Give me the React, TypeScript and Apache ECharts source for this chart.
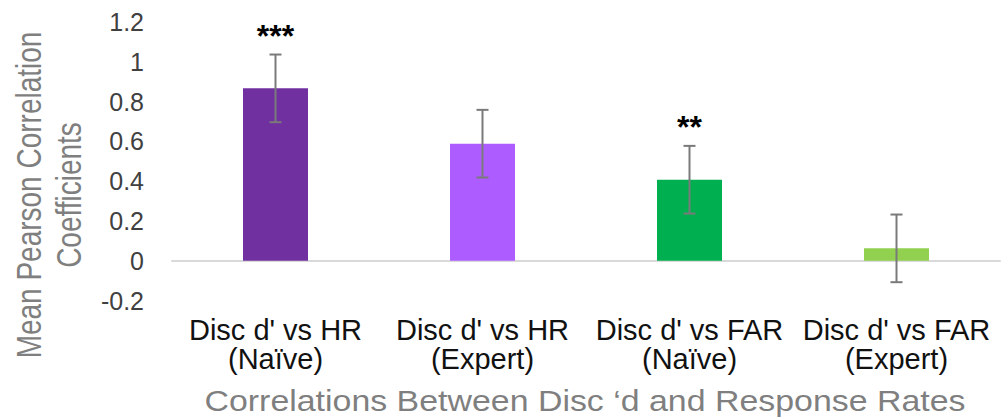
import React, { useEffect, useRef } from "react";
import * as echarts from "echarts";

const categories = [
  "Disc d' vs HR\n(Naïve)",
  "Disc d' vs HR\n(Expert)",
  "Disc d' vs FAR\n(Naïve)",
  "Disc d' vs FAR\n(Expert)",
];
const means = [0.866, 0.588, 0.407, 0.062];
const errors = [0.17, 0.17, 0.17, 0.17];
const significance = ["***", "", "**", ""];
const barColors = ["#7030A0", "#AD5CFF", "#00B050", "#92D050"];
const yMin = -0.2;
const yMax = 1.2;
const yStep = 0.2;
const yTitleLines = ["Mean Pearson Correlation", "Coefficients"];
const xTitle = "Correlations Between Disc \u2018d and Response Rates";

const FONT = '"Liberation Sans", Arial, sans-serif';

export default function App() {
  const ref = useRef<HTMLDivElement>(null);
  useEffect(() => {
    document.body.style.margin = "0";
    const chart = echarts.init(ref.current!, null, { renderer: "svg" });
    chart.setOption({
      animation: false,
      backgroundColor: "#ffffff",
      grid: {
        left: 172,
        right: 3,
        top: 21.9,
        bottom: 118.5,
        containLabel: false,
        outerBoundsMode: "none",
      },
      xAxis: {
        type: "category",
        data: categories,
        axisLine: { onZero: true, lineStyle: { color: "#d9d9d9", width: 2 } },
        axisTick: { show: false },
        axisLabel: {
          margin: 15,
          fontSize: 29,
          lineHeight: 29,
          fontFamily: FONT,
          color: "#111111",
          interval: 0,
        },
        splitLine: { show: false },
      },
      yAxis: {
        type: "value",
        min: yMin,
        max: yMax,
        interval: yStep,
        axisLine: { show: false },
        axisTick: { show: false },
        splitLine: { show: false },
        axisLabel: {
          margin: 28,
          fontSize: 25,
          fontFamily: FONT,
          color: "#404040",
          formatter: (v: number) => String(Math.round(v * 10) / 10),
        },
      },
      series: [
        {
          type: "bar",
          barWidth: 65,
          data: means.map((m, i) => ({ value: m, itemStyle: { color: barColors[i] } })),
          z: 2,
        },
        {
          type: "custom",
          z: 3,
          data: means.map((m, i) => [i, m, errors[i]]),
          encode: { x: 0, y: 1 },
          renderItem: (params: any, api: any) => {
            const i = api.value(0);
            const m = api.value(1);
            const e = api.value(2);
            const top = api.coord([i, m + e]);
            const bot = api.coord([i, m - e]);
            const x = top[0];
            const half = 6;
            const ls = { stroke: "#7a7a7a", lineWidth: 2 };
            const children: any[] = [
              { type: "line", shape: { x1: x, y1: top[1], x2: x, y2: bot[1] }, style: ls },
              { type: "line", shape: { x1: x - half, y1: top[1], x2: x + half, y2: top[1] }, style: ls },
              { type: "line", shape: { x1: x - half, y1: bot[1], x2: x + half, y2: bot[1] }, style: ls },
            ];
            const sig = significance[params.dataIndex];
            if (sig) {
              children.push({
                type: "text",
                x: x,
                y: top[1] - 19,
                style: {
                  text: sig,
                  fill: "#000000",
                  fontSize: 32,
                  fontWeight: "bold",
                  fontFamily: FONT,
                  align: "center",
                  verticalAlign: "middle",
                },
              });
            }
            return { type: "group", children };
          },
        },
      ],
      graphic: [
        {
          type: "text",
          x: 30,
          y: 195,
          rotation: Math.PI / 2,
          scaleY: 1.22,
          style: {
            text: yTitleLines[0],
            fontSize: 28,
            fontFamily: FONT,
            fill: "#7f7f7f",
            align: "center",
            verticalAlign: "middle",
          },
        },
        {
          type: "text",
          x: 70,
          y: 195,
          rotation: Math.PI / 2,
          scaleY: 1.22,
          style: {
            text: yTitleLines[1],
            fontSize: 28,
            fontFamily: FONT,
            fill: "#7f7f7f",
            align: "center",
            verticalAlign: "middle",
          },
        },
        {
          type: "text",
          x: 585,
          y: 401,
          scaleX: 1.13,
          style: {
            text: xTitle,
            fontSize: 30,
            fontFamily: FONT,
            fill: "#7f7f7f",
            align: "center",
            verticalAlign: "middle",
          },
        },
      ],
    });
    return () => chart.dispose();
  }, []);
  return (
    <div
      ref={ref}
      style={{ width: 1003, height: 419, position: "absolute", left: 0, top: 0 }}
    />
  );
}
